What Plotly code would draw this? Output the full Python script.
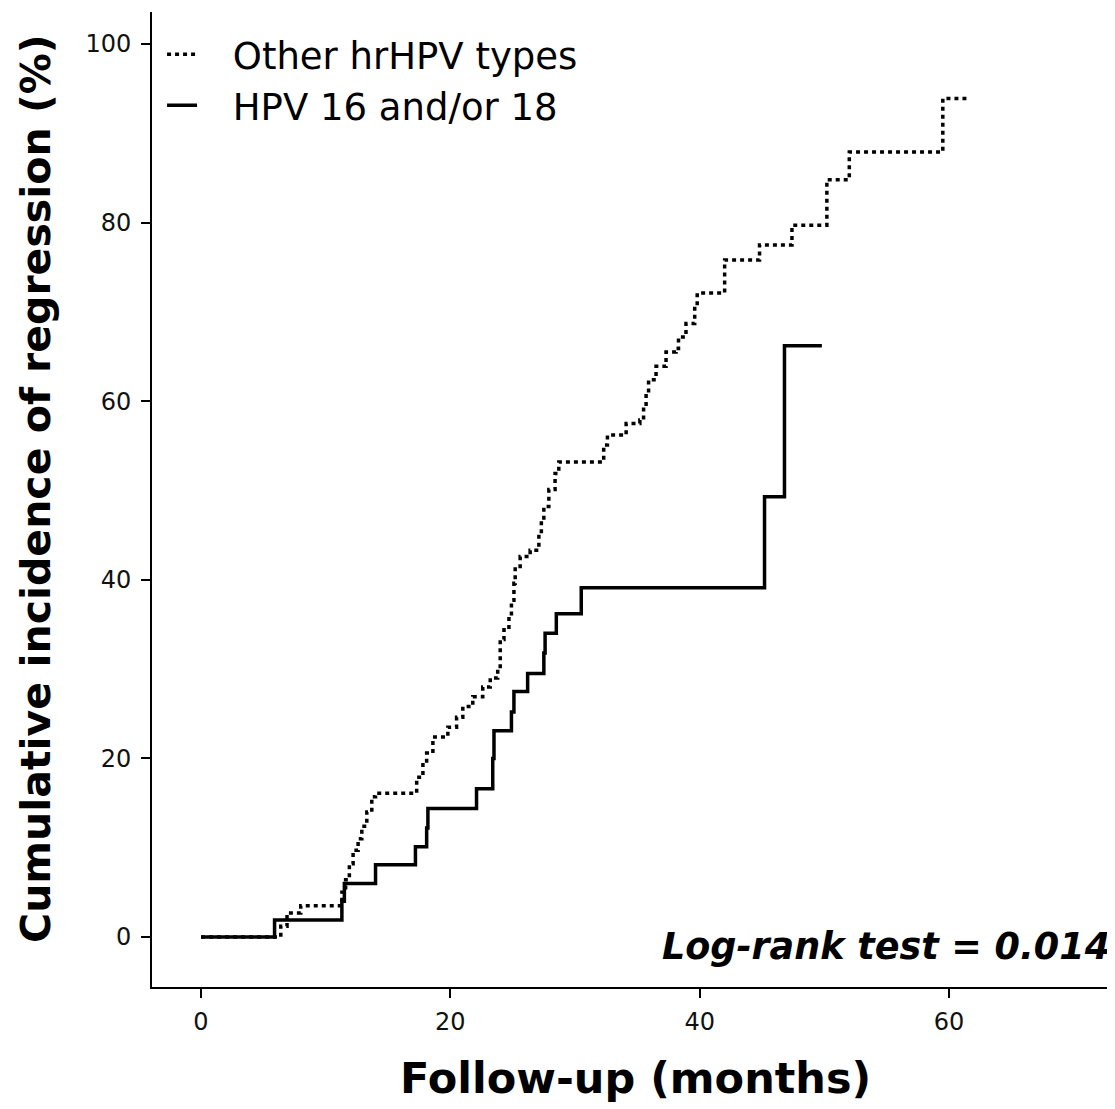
import plotly.graph_objects as go

# Other hrHPV types (step function: time in months, cumulative incidence %)
other_months = [0, 6.4, 6.9, 8.0, 11.3, 11.6, 11.9, 12.2, 12.6, 12.9, 13.3, 13.7, 14.0,
                17.3, 17.8, 18.1, 18.6, 19.8, 20.5, 21.0, 21.8, 22.6, 23.2, 23.8, 24.0,
                24.3, 24.7, 24.9, 25.1, 25.2, 25.6, 26.4, 27.1, 27.3, 27.5, 27.9, 28.4,
                28.7, 32.3, 32.6, 34.1, 35.2, 35.5, 35.7, 35.9, 36.5, 37.3, 38.1, 38.3,
                38.9, 39.6, 39.8, 42.0, 44.8, 47.4, 50.2, 52.0, 59.5, 61.4]
other_pct = [0, 1.2, 2.7, 3.5, 5.0, 6.4, 8.2, 9.7, 11.0, 12.4, 14.0, 15.7, 16.1,
             17.9, 19.5, 20.6, 22.4, 23.5, 24.6, 25.8, 26.9, 28.0, 29.0, 30.0, 33.3,
             34.4, 36.0, 37.7, 39.6, 41.5, 42.6, 43.3, 45.2, 46.7, 48.2, 50.1, 51.9,
             53.2, 55.1, 56.2, 57.5, 57.9, 59.4, 60.9, 62.4, 63.9, 65.5, 65.9, 67.2,
             68.7, 70.6, 72.1, 75.8, 77.5, 79.7, 84.8, 87.9, 93.9, 93.9]

# HPV 16 and/or 18
hpv_months = [0, 5.9, 11.3, 11.5, 14.0, 17.2, 18.1, 18.2, 22.1, 23.4, 23.5, 24.9, 25.1,
              26.2, 27.5, 27.6, 28.5, 30.5, 45.2, 46.8, 49.8]
hpv_pct = [0, 1.9, 4.0, 6.0, 8.1, 10.1, 12.2, 14.4, 16.6, 20.0, 23.1, 25.2, 27.5,
           29.5, 31.8, 34.0, 36.2, 39.1, 49.3, 66.2, 66.2]

series_names = ["Other hrHPV types", "HPV 16 and/or 18"]

x_ticks = [0, 20, 40, 60]
y_ticks = [0, 20, 40, 60, 80, 100]

FONT = "DejaVu Sans"
GAP = "\u2002\u2004"  # visual gap between legend sample and label

fig = go.Figure()
fig.add_trace(go.Scatter(
    x=other_months, y=other_pct, mode="lines", line_shape="hv",
    name=GAP + series_names[0],
    line=dict(color="black", width=3.5, dash="4px,4px"),
))
fig.add_trace(go.Scatter(
    x=hpv_months, y=hpv_pct, mode="lines", line_shape="hv",
    name=GAP + series_names[1],
    line=dict(color="black", width=3.5),
))

fig.update_layout(
    width=1115, height=1109,
    margin=dict(l=144, r=13, t=4, b=130),
    paper_bgcolor="white", plot_bgcolor="white",
    font=dict(family=FONT, color="black"),
    showlegend=True,
    legend=dict(
        x=0.0105, y=0.988, xanchor="left", yanchor="top",
        font=dict(family=FONT, size=37, color="black"),
        bgcolor="rgba(0,0,0,0)", itemwidth=30, tracegroupgap=0,
    ),
    xaxis=dict(
        range=[-3.93, 72.91], tickvals=x_ticks, showgrid=False, zeroline=False,
        showline=True, linecolor="black", linewidth=2,
        ticks="outside", ticklen=9, tickwidth=2, tickcolor="black",
        ticklabelstandoff=3,
        tickfont=dict(family=FONT, size=24, color="#111"),
    ),
    yaxis=dict(
        range=[-5.6, 103.58], tickvals=y_ticks, showgrid=False, zeroline=False,
        showline=True, linecolor="black", linewidth=2,
        ticks="outside", ticklen=9, tickwidth=2, tickcolor="black",
        ticklabelstandoff=5,
        tickfont=dict(family=FONT, size=24, color="#111"),
    ),
    annotations=[
        dict(text="<b>Follow-up (months)</b>", xref="paper", yref="paper",
             x=0.5052, y=-0.0933, xanchor="center", yanchor="middle", showarrow=False,
             font=dict(family=FONT, size=43, color="black")),
        dict(text="<b>Cumulative incidence of regression (%)</b>", xref="paper", yref="paper",
             x=-0.1211, y=0.5108, xanchor="center", yanchor="middle", showarrow=False,
             textangle=-90, font=dict(family=FONT, size=41, color="black")),
        dict(text="<b><i>Log-rank test = 0.014</i></b>", xref="paper", yref="paper",
             x=1.002, y=0.042, xanchor="right", yanchor="middle", showarrow=False,
             font=dict(family=FONT, size=36.5, color="black")),
    ],
)

fig.write_html("out.html")
